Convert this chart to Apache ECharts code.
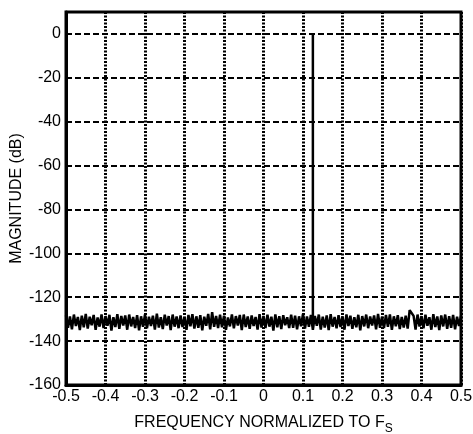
<!DOCTYPE html>
<html lang="en">
<head>
  <meta charset="UTF-8">
  <title>FFT</title>
  <style>
    html, body { margin: 0; padding: 0; background: #fff; }
    #main { width: 473px; height: 434px; }
  </style>
</head>
<body>
  <div id="main"></div>
  <script src="https://cdn.jsdelivr.net/npm/echarts@6/dist/echarts.min.js"></script>
  <script>
    // noise floor, one value per bin, bins 0.005 apart from -0.5 to 0.5
    var binStart = -0.5;
    var binStep = 0.005;
    var noiseDb = [
      -128.2,-133.9,-128.8,-134.6,-127.9,-133.1,-129.0,-135.0,-128.4,-133.7,-127.6,-134.3,-128.9,-132.8,-128.1,-134.9,-129.2,-133.4,-127.8,-134.1,
      -128.6,-133.0,-128.0,-135.2,-129.1,-133.6,-127.7,-134.4,-128.5,-132.9,-128.3,-134.8,-127.9,-133.3,-129.0,-134.0,-128.2,-135.1,-128.7,-133.5,
      -127.8,-134.2,-128.9,-133.1,-128.4,-134.7,-127.5,-133.8,-129.1,-134.5,-128.0,-132.9,-128.6,-135.0,-127.9,-133.4,-128.8,-134.1,-128.3,-133.6,
      -129.0,-134.9,-128.1,-133.2,-127.7,-134.3,-128.7,-133.9,-128.2,-135.1,-128.9,-133.0,-127.6,-134.6,-126.8,-133.5,-128.5,-134.0,-128.0,-133.7,
      -128.4,-134.8,-129.2,-133.3,-127.8,-134.2,-128.6,-132.9,-128.1,-135.0,-127.9,-133.6,-128.8,-134.4,-128.3,-133.1,-129.0,-134.7,-127.7,-133.8,
      -128.5,-134.1,-128.0,-133.4,-128.9,-135.2,-127.8,-133.7,-128.6,-134.5,-128.2,-132.8,-129.1,-134.0,-127.9,-133.9,-128.4,-134.6,-128.7,-133.2,
      -127.6,-134.3,-128.8,-133.5,-128.1,-134.9,-128.5,-133.0,-127.9,-134.7,-128.9,-133.8,-128.3,-135.0,-127.7,-133.4,-129.0,-134.2,-128.2,-133.6,
      -128.7,-134.8,-127.8,-133.1,-128.4,-134.4,-129.1,-133.7,-128.0,-135.1,-128.6,-133.3,-127.9,-134.1,-128.8,-132.9,-128.3,-134.6,-127.6,-133.9,
      -128.9,-134.0,-128.1,-133.5,-127.8,-134.9,-128.7,-133.2,-128.2,-134.5,-129.0,-133.8,-128.4,-134.3,-125.9,-126.2,-128.5,-134.7,-127.9,-133.4,
      -128.6,-134.2,-128.0,-133.0,-129.1,-134.8,-127.7,-133.6,-128.8,-135.0,-128.3,-133.3,-127.9,-134.4,-128.6,-133.9,-128.1,-134.6,-128.9,-133.1,
      -128.4
    ];
    // the tone
    var toneFreq = 0.125;
    var toneDb = 0;

    var xTicks = [-0.5, 0.5, 0.1];   // min, max, step
    var yTicks = [-160, 10, 20];

    var data = [];
    for (var i = 0; i < noiseDb.length; i++) {
      var f = +(binStart + i * binStep).toFixed(4);
      data.push([f, noiseDb[i]]);
      if (f === toneFreq) {
        data.push([f, toneDb]);
        data.push([f, noiseDb[i]]);
      }
    }

    var myChart = echarts.init(document.getElementById('main'));
    var font = 'Liberation Sans, Arial, sans-serif';

    var option = {
      animation: false,
      grid: {
        left: 66, right: 12, top: 12, bottom: 49,
        outerBoundsMode: 'none',
        containLabel: false,
        show: true, borderColor: '#000', borderWidth: 3
      },
      xAxis: {
        type: 'value',
        min: xTicks[0], max: xTicks[1], interval: xTicks[2],
        name: 'FREQUENCY NORMALIZED TO F{sub|S}',
        nameLocation: 'middle',
        nameGap: 26,
        nameMoveOverlap: false,
        nameTextStyle: {
          color: '#000', fontSize: 16, fontFamily: font,
          rich: { sub: { fontSize: 12, fontFamily: font, color: '#000', padding: [12, 0, 0, 0] } }
        },
        axisLine: { onZero: false, lineStyle: { color: '#000', width: 3 } },
        axisTick: { show: false },
        axisLabel: {
          color: '#000', fontSize: 16, fontFamily: font, margin: 4,
          formatter: function (v) { return +v.toFixed(1) + ''; }
        },
        splitLine: { lineStyle: { color: '#000', width: 3, type: [2, 1.5] } }
      },
      yAxis: {
        type: 'value',
        min: yTicks[0], max: yTicks[1], interval: yTicks[2],
        name: 'MAGNITUDE (dB)',
        nameLocation: 'middle',
        nameGap: 41,
        nameMoveOverlap: false,
        nameTextStyle: { color: '#000', fontSize: 16, fontFamily: font },
        axisLine: { onZero: false, lineStyle: { color: '#000', width: 3 } },
        axisTick: { show: false },
        axisLabel: {
          color: '#000', fontSize: 16, fontFamily: font, margin: 5,
          formatter: function (v) { return v > 0 ? '' : v + ''; }
        },
        splitLine: { lineStyle: { color: '#000', width: 2, type: [6, 3] } }
      },
      series: [{
        type: 'line',
        data: data,
        symbol: 'none',
        lineStyle: { color: '#000', width: 2.5 },
        z: 5
      }]
    };

    myChart.setOption(option);
  </script>
</body>
</html>
